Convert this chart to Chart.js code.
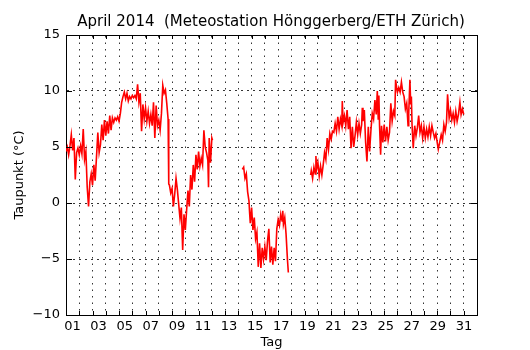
<!DOCTYPE html>
<html><head><meta charset="utf-8">
<script src="https://cdn.jsdelivr.net/npm/chart.js@4/dist/chart.umd.min.js"></script>
<style>html,body{margin:0;padding:0;background:#fff}#wrap{width:530px;height:350px}</style>
</head><body><div id="wrap"><canvas id="c" width="530" height="350"></canvas></div>
<script>
const titleText = 'April 2014  (Meteostation Hönggerberg/ETH Zürich)';
const yTitle = 'Taupunkt (°C)';
const xTitle = 'Tag';
const dayLabels = [1,3,5,7,9,11,13,15,17,19,21,23,25,27,29,31];
const yTickValues = [-10,-5,0,5,10,15];

// time in days since 1 April 00:00
const dayTimes = [
 0.0,0.1,0.2,0.3,0.4,0.5,0.6,0.7,0.8,0.9,
 1.0,1.1,1.2,1.3,1.4,1.5,1.6,1.7,1.8,1.9,
 2.0,2.1,2.2,2.3,2.4,2.5,2.6,2.7,2.8,2.9,
 3.0,3.1,3.2,3.3,3.4,3.5,3.6,3.7,3.8,3.9,
 4.0,4.1,4.2,4.3,4.4,4.5,4.6,4.7,4.8,4.9,
 5.0,5.1,5.2,5.3,5.4,5.5,5.6,5.7,5.8,5.9,
 6.0,6.1,6.2,6.3,6.4,6.5,6.6,6.7,6.8,6.9,
 7.0,7.1,7.2,7.3,7.4,7.5,7.6,7.7,7.75,7.8,7.9,
 8.0,8.1,8.2,8.3,8.4,8.5,8.6,8.7,8.8,8.9,
 9.0,9.1,9.2,9.3,9.4,9.5,9.6,9.7,9.8,9.9,
 10.0,10.1,10.2,10.3,10.4,10.5,10.6,10.7,10.75,10.8,10.9,
 11.0,11.05,
 12.2,
 13.3,13.4,13.5,13.6,13.7,13.8,13.85,13.9,
 14.0,14.1,14.2,14.3,14.4,14.5,14.6,14.7,14.8,14.9,
 15.0,15.1,15.2,15.3,15.4,15.5,15.6,15.7,15.8,15.9,
 16.0,16.1,16.2,16.3,16.35,16.4,16.5,16.6,16.7,16.77,
 17.6,
 18.45,18.5,18.6,18.7,18.8,18.85,18.9,
 19.0,19.1,19.2,19.3,19.4,19.5,19.6,19.7,19.8,19.9,
 20.0,20.1,20.2,20.3,20.4,20.5,20.6,20.7,20.8,20.84,20.9,
 21.0,21.1,21.2,21.3,21.4,21.5,21.6,21.7,21.8,21.9,
 22.0,22.1,22.2,22.3,22.35,22.4,22.5,22.6,22.7,22.8,22.9,
 23.0,23.1,23.2,23.3,23.4,23.48,23.55,23.6,23.65,23.73,23.8,23.9,
 24.0,24.1,24.2,24.3,24.4,24.5,24.6,24.7,24.8,24.86,24.95,
 25.0,25.1,25.2,25.3,25.4,25.5,25.6,25.7,25.8,25.85,25.94,
 26.0,26.05,26.1,26.19,26.3,26.4,26.5,26.6,26.7,26.8,26.9,
 27.0,27.1,27.2,27.3,27.4,27.5,27.6,27.7,27.8,27.9,
 28.0,28.08,28.2,28.3,28.4,28.5,28.6,28.7,28.78,28.9,
 29.0,29.1,29.2,29.3,29.4,29.5,29.6,29.71,29.8,29.9,30.0
];
// dew point in °C (null = no data)
const taupunkt = [
 4.6,5.0,4.3,5.1,6.1,4.7,5.8,2.1,4.5,4.9,
 4.3,5.1,4.4,6.6,3.9,4.6,1.4,-0.3,1.9,2.6,
 1.6,3.4,2.0,4.1,6.3,4.5,5.2,7.0,5.6,7.4,
 6.0,7.3,6.2,7.8,6.5,7.6,7.2,7.6,7.4,7.7,
 7.3,8.0,9.0,9.5,9.9,9.3,9.8,9.1,9.5,9.3,
 9.6,9.4,9.6,9.3,10.6,9.0,9.8,6.4,8.8,7.5,
 8.5,7.3,8.2,7.1,7.9,6.9,9.0,5.8,8.7,6.9,
 7.4,6.5,8.0,10.5,9.8,10.1,8.9,7.5,1.7,1.6,0.9,
 1.3,-0.3,0.8,2.2,1.2,-0.1,-1.4,-0.4,-4.2,-1.0,
 -2.4,-0.6,1.1,-0.3,2.5,1.2,3.4,1.9,4.3,3.0,
 4.6,3.3,4.0,3.4,6.5,5.0,4.5,3.8,1.4,5.8,3.6,
 5.8,5.6,
 null,
 3.0,3.2,2.2,2.6,1.0,0.2,-0.9,-1.8,
 -0.4,-2.4,-1.3,-3.2,-2.6,-5.7,-3.6,-5.8,-4.0,-5.0,
 -3.9,-5.1,-3.4,-2.3,-5.3,-3.9,-5.5,-4.0,-5.2,-2.3,
 -1.5,-2.0,-1.0,-1.6,-0.7,-1.9,-1.3,-2.8,-5.0,-6.2,
 null,
 2.5,2.9,2.2,3.2,2.6,4.2,3.0,
 3.6,2.4,3.3,2.5,3.4,4.5,3.9,5.8,4.8,6.2,
 5.7,6.4,6.3,7.1,6.4,7.7,6.6,7.5,6.9,9.1,7.2,
 7.8,6.9,8.3,6.6,7.7,4.9,6.8,5.0,6.0,7.2,
 6.1,7.1,6.2,7.0,8.5,7.3,8.3,5.4,3.7,6.8,4.6,
 6.5,8.0,7.5,9.2,7.9,10.0,7.5,9.6,6.9,4.3,6.9,5.4,
 7.0,5.5,6.8,5.6,6.3,8.9,7.3,8.2,7.8,11.0,10.2,
 9.9,10.3,9.9,10.8,9.9,9.5,8.4,8.9,6.9,8.0,11.0,
 8.8,9.5,7.0,4.9,6.9,6.0,6.7,7.8,6.3,6.9,5.8,
 6.8,5.8,6.6,5.9,6.8,6.0,6.9,6.3,5.8,6.2,
 5.4,4.8,5.5,6.1,5.6,7.0,6.4,7.2,9.7,7.6,
 8.3,7.4,8.0,7.2,8.2,7.3,7.9,9.0,7.9,8.4,7.9
];

const points = dayTimes.map((t, i) => ({x: t, y: taupunkt[i]}));
const fmtMinus = v => (v < 0 ? '\u2212' + Math.abs(v) : String(v));

Chart.defaults.font.family = "'DejaVu Sans', sans-serif";
Chart.defaults.color = '#000';

const innerTicks = {
  id: 'innerTicks',
  afterDraw(chart) {
    const {ctx, chartArea: a, scales} = chart;
    ctx.save();
    ctx.strokeStyle = '#000';
    ctx.lineWidth = 1;
    ctx.beginPath();
    scales.x.ticks.forEach(t => {
      if (t.value <= scales.x.min || t.value >= scales.x.max) return;
      const px = Math.round(scales.x.getPixelForValue(t.value)) + 0.5;
      ctx.moveTo(px, a.bottom); ctx.lineTo(px, a.bottom - 4);
      ctx.moveTo(px, a.top); ctx.lineTo(px, a.top + 4);
    });
    scales.y.ticks.forEach(t => {
      if (t.value <= scales.y.min || t.value >= scales.y.max) return;
      const py = Math.round(scales.y.getPixelForValue(t.value)) + 0.5;
      ctx.moveTo(a.left, py); ctx.lineTo(a.left + 6, py);
      ctx.moveTo(a.right, py); ctx.lineTo(a.right - 6, py);
    });
    ctx.stroke();
    ctx.restore();
  }
};

new Chart(document.getElementById('c'), {
  type: 'line',
  data: {
    datasets: [{
      data: points,
      borderColor: '#ff0000',
      borderWidth: 1.6,
      pointRadius: 0,
      tension: 0,
      spanGaps: false,
      fill: false
    }]
  },
  options: {
    responsive: false,
    animation: false,
    devicePixelRatio: 1,
    layout: {padding: {left: 12, right: 0, top: 0, bottom: 0}},
    plugins: {
      legend: {display: false},
      tooltip: {enabled: false},
      title: {
        display: true,
        text: titleText,
        color: '#000',
        font: {size: 15, weight: 'normal'},
        padding: {top: 13, bottom: 4}
      }
    },
    scales: {
      x: {
        type: 'linear', position: 'top', min: 0, max: 31,
        ticks: {display: false, stepSize: 1},
        grid: {color: '#000', lineWidth: 0.8, drawTicks: false},
        border: {display: true, color: '#000', width: 1, dash: [1.5, 5]},
        afterFit: s => { s.height = 0; }
      },
      xl: {
        type: 'linear', position: 'bottom', min: 0.5, max: 32,
        afterBuildTicks: s => { s.ticks = dayLabels.map(v => ({value: v})); },
        ticks: {callback: v => String(v).padStart(2, '0'), padding: 4, font: {size: 13}, maxRotation: 0, autoSkip: false},
        grid: {display: false, drawTicks: false},
        border: {display: true, color: '#000', width: 1},
        title: {display: true, text: xTitle, font: {size: 13}, padding: {top: 0, bottom: 0}},
        afterFit: s => { s.height = 35; }
      },
      y: {
        type: 'linear', position: 'left', min: -10, max: 15,
        afterBuildTicks: s => { s.ticks = yTickValues.map(v => ({value: v})); },
        ticks: {callback: v => fmtMinus(v), padding: 6, font: {size: 13}},
        grid: {color: '#000', lineWidth: 0.8, drawTicks: false},
        border: {display: true, color: '#000', width: 1, dash: [2, 4]},
        title: {display: true, text: yTitle, font: {size: 13}, padding: {top: 0, bottom: 0}},
        afterFit: s => { s.width = 54; }
      },
      yr: {
        type: 'linear', position: 'right', min: -10, max: 15,
        ticks: {display: false},
        grid: {display: false, drawTicks: false},
        border: {display: true, color: '#000', width: 1},
        afterFit: s => { s.width = 53; }
      }
    }
  },
  plugins: [innerTicks]
});
</script>
</body></html>
